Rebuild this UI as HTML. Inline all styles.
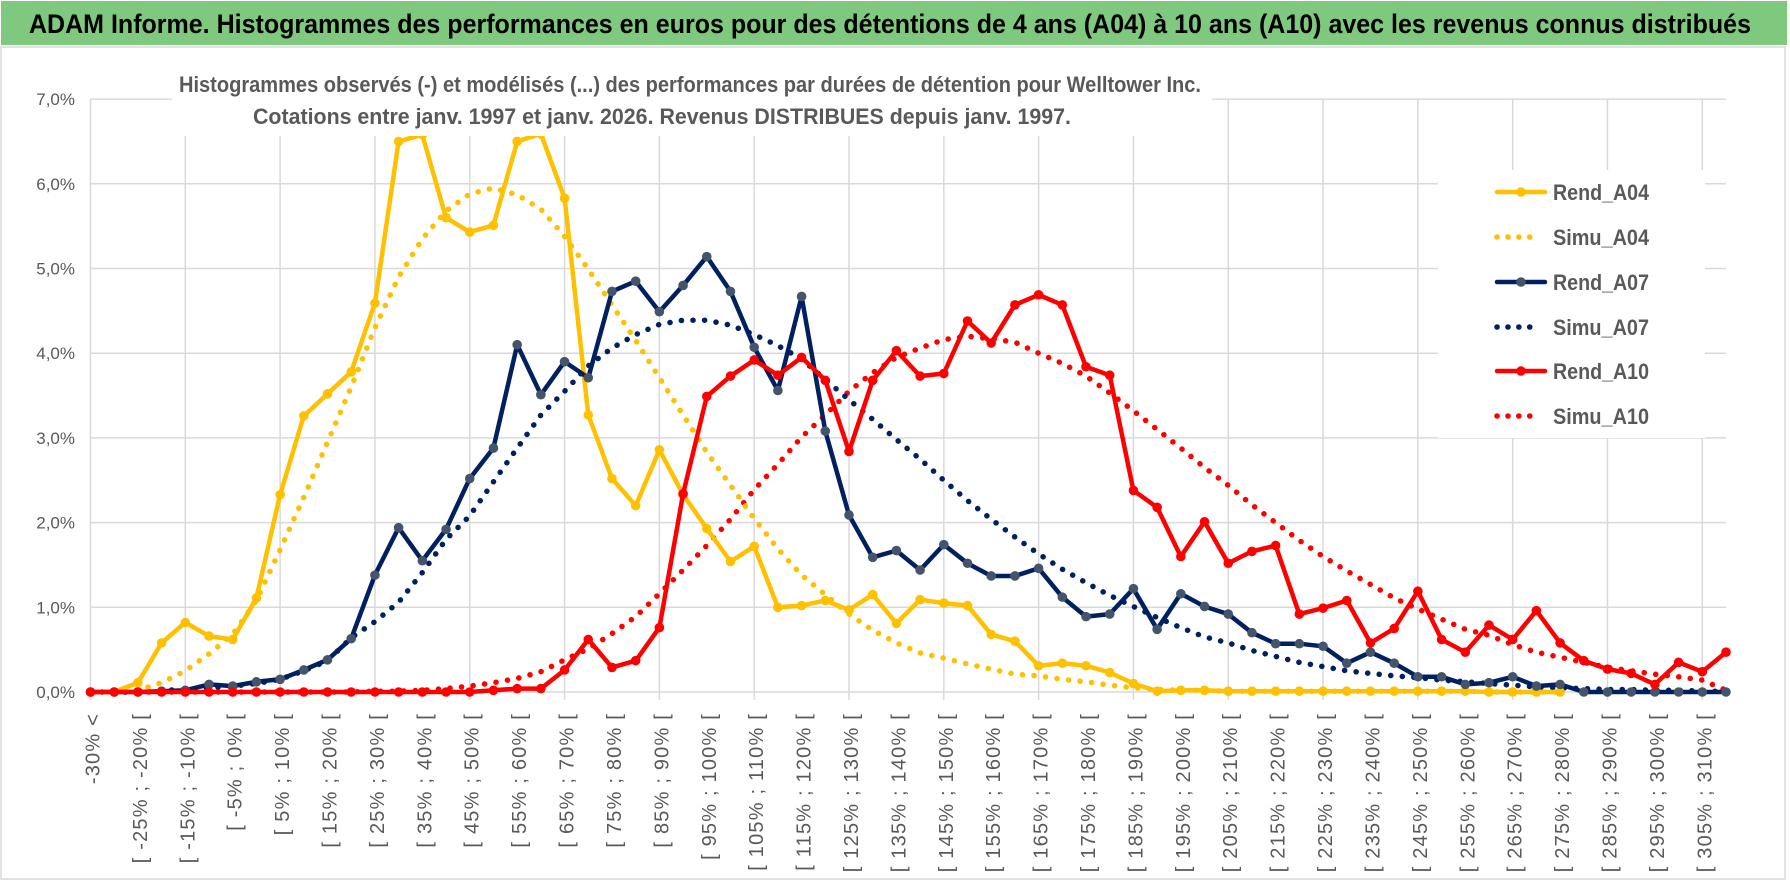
<!DOCTYPE html>
<html><head><meta charset="utf-8"><style>
html,body{margin:0;padding:0;background:#fff;}
svg{display:block;font-family:"Liberation Sans",sans-serif;}
</style></head><body>
<svg id="chart" width="1790" height="888" viewBox="0 0 1790 888" xmlns="http://www.w3.org/2000/svg">
<rect x="0" y="0" width="1790" height="888" fill="#fff"/>
<rect x="1" y="1" width="1786" height="44" fill="#7FC97F"/>
<text x="29" y="33" font-size="27" font-weight="bold" fill="#000" textLength="1722" lengthAdjust="spacingAndGlyphs">ADAM Informe. Histogrammes des performances en euros pour des détentions de 4 ans (A04) à 10 ans (A10) avec les revenus connus distribués</text>
<rect x="1" y="47" width="1784" height="832" fill="#fff" stroke="#d9d9d9" stroke-width="1.5"/>
<g id="grid"></g>
<g id="series"></g>
<rect x="172" y="66" width="1040" height="70" fill="#fff"/>
<text x="690" y="92" font-size="22" font-weight="bold" fill="#595959" text-anchor="middle" textLength="1022" lengthAdjust="spacingAndGlyphs">Histogrammes observés (-) et modélisés (...) des performances par durées de détention pour Welltower Inc.</text>
<text x="662" y="124" font-size="22" font-weight="bold" fill="#595959" text-anchor="middle" textLength="818" lengthAdjust="spacingAndGlyphs">Cotations entre janv. 1997 et janv. 2026. Revenus DISTRIBUES depuis janv. 1997.</text>
<g id="yaxis"></g>
<g id="xaxis"></g>
<g id="legend"></g>
</svg>
<script>
const categoryCount = 70;
const yTicks = [0,1,2,3,4,5,6,7];
const rendA04 = [0,0,0.11,0.58,0.82,0.66,0.62,1.11,2.33,3.26,3.52,3.78,4.59,6.50,6.58,5.60,5.43,5.51,6.50,6.59,5.83,3.27,2.52,2.20,2.86,2.33,1.93,1.54,1.72,1.00,1.02,1.08,0.97,1.15,0.81,1.09,1.05,1.02,0.68,0.60,0.31,0.34,0.31,0.23,0.10,0.01,0.02,0.02,0.01,0.01,0.01,0.01,0.01,0.01,0.01,0.01,0.01,0.01,0.01,0,0,0,0];
const simuA04 = [0,0,0.02,0.11,0.25,0.45,0.68,1.08,1.68,2.30,2.95,3.60,4.30,4.90,5.35,5.68,5.88,5.95,5.87,5.70,5.38,4.99,4.57,4.15,3.71,3.27,2.83,2.44,2.05,1.69,1.38,1.15,0.92,0.73,0.58,0.46,0.40,0.33,0.27,0.21,0.19,0.15,0.12,0.08,0.05,0.03,0.02,0.02,0.01,0.01,0.01,0.01,0.01,0.01,0.01,0.01,0.01,0.01,0.01,0,0,0,0];
const rendA07 = [0,0,0,0.01,0.02,0.09,0.07,0.12,0.15,0.26,0.38,0.63,1.38,1.94,1.55,1.92,2.52,2.88,4.10,3.51,3.90,3.71,4.73,4.85,4.49,4.80,5.14,4.73,4.07,3.56,4.67,3.08,2.09,1.59,1.67,1.44,1.74,1.52,1.37,1.37,1.46,1.12,0.89,0.92,1.22,0.74,1.16,1.01,0.92,0.70,0.57,0.57,0.54,0.34,0.47,0.34,0.18,0.18,0.09,0.11,0.18,0.07,0.09,0,0,0,0,0,0,0];
const simuA07 = [0,0,0,0.02,0.03,0.05,0.07,0.10,0.15,0.25,0.37,0.64,0.83,1.06,1.41,1.80,2.08,2.48,2.88,3.27,3.55,3.85,4.06,4.22,4.34,4.39,4.39,4.33,4.22,4.09,3.93,3.69,3.45,3.22,2.98,2.75,2.50,2.26,2.04,1.83,1.63,1.45,1.29,1.14,1.01,0.88,0.76,0.65,0.58,0.49,0.42,0.35,0.30,0.25,0.22,0.19,0.17,0.14,0.12,0.10,0.08,0.06,0.05,0.04,0.03,0.03,0.02,0.02,0.01,0.01];
const rendA10 = [0,0,0,0,0,0,0,0,0,0,0,0,0,0,0,0,0,0.02,0.04,0.04,0.26,0.62,0.29,0.37,0.76,2.34,3.49,3.73,3.92,3.74,3.95,3.68,2.84,3.68,4.03,3.73,3.76,4.38,4.12,4.57,4.69,4.57,3.84,3.74,2.38,2.18,1.60,2.01,1.52,1.66,1.73,0.92,0.99,1.08,0.58,0.75,1.19,0.62,0.47,0.79,0.62,0.96,0.58,0.37,0.27,0.22,0.09,0.35,0.24,0.47];
const simuA10 = [0,0,0,0,0,0,0,0,0,0,0,0,0.01,0.01,0.02,0.04,0.07,0.11,0.16,0.24,0.38,0.51,0.69,0.89,1.16,1.44,1.73,2.04,2.39,2.69,3.01,3.27,3.55,3.77,3.95,4.06,4.16,4.20,4.17,4.13,4.00,3.88,3.73,3.53,3.32,3.10,2.88,2.65,2.44,2.21,2.00,1.79,1.60,1.43,1.27,1.11,0.98,0.86,0.74,0.67,0.56,0.47,0.41,0.35,0.29,0.25,0.21,0.18,0.14,0.02];
const legendLabels = ["Rend_A04","Simu_A04","Rend_A07","Simu_A07","Rend_A10","Simu_A10"];

const NS="http://www.w3.org/2000/svg";
const X0=90.5, X1=1726, Y0=692, PPU=84.7;
function xPos(i){return X0+(X1-X0)*i/(categoryCount-1);}
function yPos(v){return Y0-v*PPU;}
function mk(tag,attrs,parent){const e=document.createElementNS(NS,tag);for(const k in attrs)e.setAttribute(k,attrs[k]);parent.appendChild(e);return e;}
function catLabel(i){if(i===0)return "-30% <";const lo=-30+5*(i-1);return "[ "+lo+"% ; "+(lo+5)+"% [";}

const grid=document.getElementById('grid');
yTicks.forEach(t=>{
  const l=mk('line',{x1:X0,x2:X1,y1:yPos(t),y2:yPos(t),stroke:'#d9d9d9','stroke-width':1.5},grid);
  
  
});
for(let i=0;i<categoryCount;i+=4){
  const l=mk('line',{x1:xPos(i),x2:xPos(i),y1:yPos(7),y2:Y0+8,stroke:'#d9d9d9','stroke-width':1.5},grid);
  
  
}
const yax=document.getElementById('yaxis');
yTicks.forEach(t=>{
  const tx=mk('text',{x:75,y:yPos(t)+6,'font-size':17,fill:'#595959','text-anchor':'end'},yax);
  tx.textContent=t.toFixed(1).replace('.',',')+'%';
  
  
});
const xax=document.getElementById('xaxis');
for(let i=0;i<categoryCount;i+=2){
  const x=xPos(i)+3,y=713;
  const tx=mk('text',{x:x,y:y,'font-size':20,'letter-spacing':1.2,fill:'#595959','text-anchor':'end','dominant-baseline':'central',transform:'rotate(-90 '+x+' '+y+')'},xax);
  tx.textContent=catLabel(i);
  
  
}
const ser=document.getElementById('series');
function pts(arr){return arr.map((v,i)=>xPos(i).toFixed(1)+','+yPos(v).toFixed(1)).join(' ');}
function dotted(arr,color,name){
  const p=mk('polyline',{points:pts(arr),fill:'none',stroke:color,'stroke-width':5.5,'stroke-linecap':'round','stroke-dasharray':'0.1 11.5'},ser);
  
  
}
function solid(arr,color,mcolor,name){
  const p=mk('polyline',{points:pts(arr),fill:'none',stroke:color,'stroke-width':4.5,'stroke-linejoin':'round'},ser);
  
  
  arr.forEach((v,i)=>{
    const c=mk('circle',{cx:xPos(i),cy:yPos(v),r:4.8,fill:mcolor},ser);
    
    
  });
}
dotted(simuA10,'#FF0000','simu-a10-line');
dotted(simuA07,'#002060','simu-a07-line');
dotted(simuA04,'#FFC000','simu-a04-line');
solid(rendA04,'#FFC000','#FFC000','rend-a04-line');
solid(rendA07,'#002060','#44546A','rend-a07-line');
solid(rendA10,'#FF0000','#FF0000','rend-a10-line');

const leg=document.getElementById('legend');
const lb=mk('rect',{x:1438,y:170,width:267,height:268,fill:'#fff'},leg);


const legColors=['#FFC000','#FFC000','#002060','#002060','#FF0000','#FF0000'];
const legMark=['#FFC000','#FFC000','#44546A','#44546A','#FF0000','#FF0000'];
const legY=[192,237,282,327,371,416];
legendLabels.forEach((lab,k)=>{
  const g=mk('g',{},leg);
  
  
  const y=legY[k];
  if(k%2===0){
    mk('line',{x1:1497,x2:1545,y1:y,y2:y,stroke:legColors[k],'stroke-width':4.5,'stroke-linecap':'round'},g);
    mk('circle',{cx:1521,cy:y,r:4.8,fill:legMark[k]},g);
  }else{
    mk('line',{x1:1497,x2:1540,y1:y,y2:y,stroke:legColors[k],'stroke-width':5.5,'stroke-linecap':'round','stroke-dasharray':'0.1 10.8'},g);
  }
  const t=mk('text',{x:1553,y:y+8,'font-size':22,'font-weight':'bold',fill:'#595959',textLength:96,lengthAdjust:'spacingAndGlyphs'},g);
  t.textContent=lab;
});
</script>
</body></html>
